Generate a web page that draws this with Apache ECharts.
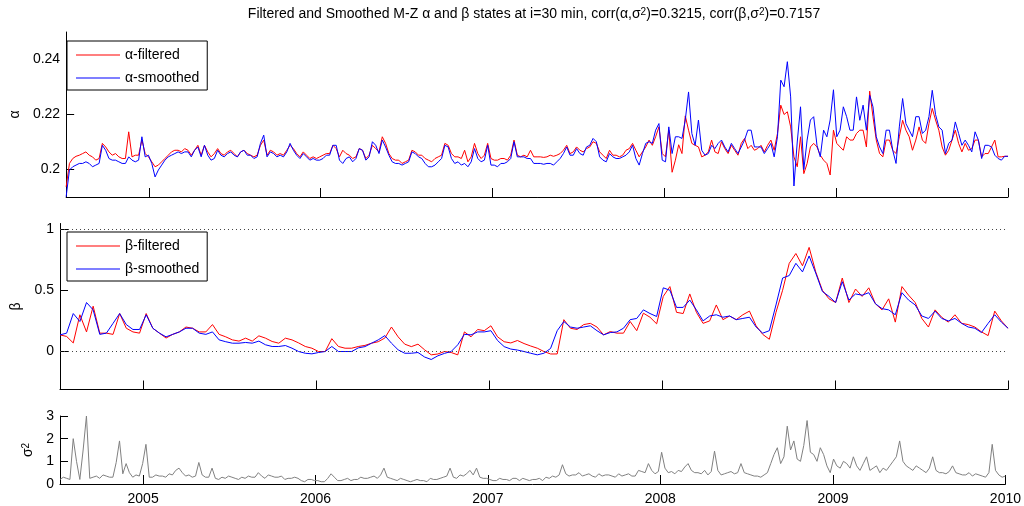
<!DOCTYPE html>
<html>
<head>
<meta charset="utf-8">
<script src="https://cdn.jsdelivr.net/npm/echarts@6/dist/echarts.min.js"></script>
<style>
html, body { margin: 0; padding: 0; background: #fff; }
#chart { width: 1024px; height: 506px; }
</style>
</head>
<body>
<div id="chart"></div>
<script>
// Observation window (UTC) and the year ticks on the shared time axis
const startDate = Date.UTC(2004, 6, 9);
const endDate = Date.UTC(2010, 0, 1);
const tickYears = [2005, 2006, 2007, 2008, 2009, 2010];

// M-Z alpha state, filtered and smoothed (weekly samples)
const alphaFiltered = [
  0.1937, 0.2022, 0.2040, 0.2048, 0.2052, 0.2058, 0.2064, 0.2052, 0.2046, 0.2034,
  0.2040, 0.2095, 0.2082, 0.2064, 0.2052, 0.2058, 0.2046, 0.2040, 0.2040, 0.2137,
  0.2046, 0.2052, 0.2052, 0.2107, 0.2058, 0.2046, 0.2028, 0.2010, 0.2016, 0.2028,
  0.2040, 0.2052, 0.2064, 0.2070, 0.2070, 0.2064, 0.2076, 0.2070, 0.2052, 0.2070,
  0.2088, 0.2052, 0.2088, 0.2064, 0.2046, 0.2058, 0.2076, 0.2058, 0.2052, 0.2064,
  0.2070, 0.2058, 0.2046, 0.2064, 0.2070, 0.2058, 0.2052, 0.2046, 0.2052, 0.2088,
  0.2107, 0.2052, 0.2070, 0.2064, 0.2052, 0.2058, 0.2052, 0.2070, 0.2088, 0.2076,
  0.2058, 0.2046, 0.2064, 0.2052, 0.2040, 0.2046, 0.2040, 0.2046, 0.2052, 0.2058,
  0.2058, 0.2088, 0.2076, 0.2046, 0.2070, 0.2058, 0.2052, 0.2040, 0.2046, 0.2076,
  0.2070, 0.2040, 0.2052, 0.2088, 0.2076, 0.2064, 0.2119, 0.2095, 0.2058, 0.2040,
  0.2034, 0.2034, 0.2022, 0.2028, 0.2034, 0.2070, 0.2064, 0.2052, 0.2052, 0.2040,
  0.2034, 0.2028, 0.2040, 0.2046, 0.2052, 0.2095, 0.2088, 0.2058, 0.2046, 0.2046,
  0.2040, 0.2070, 0.2028, 0.2046, 0.2095, 0.2058, 0.2040, 0.2052, 0.2095, 0.2040,
  0.2034, 0.2034, 0.2040, 0.2040, 0.2034, 0.2052, 0.2107, 0.2052, 0.2046, 0.2052,
  0.2046, 0.2070, 0.2046, 0.2046, 0.2046, 0.2044, 0.2046, 0.2052, 0.2048, 0.2052,
  0.2058, 0.2070, 0.2088, 0.2058, 0.2064, 0.2082, 0.2070, 0.2064, 0.2076, 0.2082,
  0.2101, 0.2095, 0.2064, 0.2052, 0.2040, 0.2070, 0.2052, 0.2052, 0.2046, 0.2052,
  0.2070, 0.2076, 0.2095, 0.2070, 0.2046, 0.2064, 0.2082, 0.2107, 0.2088, 0.2119,
  0.2155, 0.2058, 0.2046, 0.2143, 0.1990, 0.2034, 0.2090, 0.2058, 0.2195, 0.2143,
  0.2095, 0.2088, 0.2082, 0.2046, 0.2052, 0.2064, 0.2107, 0.2064, 0.2058, 0.2101,
  0.2076, 0.2058, 0.2088, 0.2070, 0.2052, 0.2095, 0.2113, 0.2076, 0.2088, 0.2070,
  0.2076, 0.2088, 0.2064, 0.2088, 0.2107, 0.2070, 0.2131, 0.2234, 0.2200, 0.2210,
  0.2155, 0.2046, 0.2010, 0.2119, 0.1985, 0.2022, 0.2082, 0.2095, 0.2082, 0.2052,
  0.2034, 0.2022, 0.1980, 0.2143, 0.2095, 0.2082, 0.2070, 0.2119, 0.2107, 0.2107,
  0.2131, 0.2143, 0.2143, 0.2082, 0.2285, 0.2192, 0.2107, 0.2058, 0.2046, 0.2107,
  0.2107, 0.2070, 0.2058, 0.2119, 0.2179, 0.2143, 0.2119, 0.2070, 0.2107, 0.2155,
  0.2107, 0.2095, 0.2167, 0.2222, 0.2180, 0.2143, 0.2082, 0.2052, 0.2070, 0.2107,
  0.2143, 0.2095, 0.2064, 0.2095, 0.2070, 0.2076, 0.2107, 0.2107, 0.2046, 0.2058,
  0.2058, 0.2082, 0.2107, 0.2046, 0.2046, 0.2048, 0.2048
];
const alphaSmoothed = [
  0.1901, 0.1998, 0.2010, 0.2016, 0.2022, 0.2022, 0.2028, 0.2022, 0.2010, 0.2016,
  0.2022, 0.2088, 0.2070, 0.2040, 0.2034, 0.2034, 0.2028, 0.2022, 0.2022, 0.2046,
  0.2034, 0.2028, 0.2034, 0.2119, 0.2046, 0.2052, 0.2022, 0.1973, 0.1998, 0.2016,
  0.2034, 0.2046, 0.2052, 0.2058, 0.2064, 0.2058, 0.2064, 0.2064, 0.2046, 0.2070,
  0.2082, 0.2046, 0.2088, 0.2052, 0.2034, 0.2040, 0.2070, 0.2052, 0.2046, 0.2058,
  0.2064, 0.2052, 0.2046, 0.2064, 0.2070, 0.2052, 0.2052, 0.2040, 0.2046, 0.2095,
  0.2125, 0.2046, 0.2064, 0.2058, 0.2046, 0.2052, 0.2046, 0.2064, 0.2095, 0.2070,
  0.2052, 0.2040, 0.2058, 0.2046, 0.2034, 0.2040, 0.2034, 0.2034, 0.2040, 0.2052,
  0.2052, 0.2088, 0.2088, 0.2034, 0.2022, 0.2040, 0.2046, 0.2028, 0.2040, 0.2076,
  0.2070, 0.2034, 0.2046, 0.2101, 0.2088, 0.2058, 0.2107, 0.2082, 0.2052, 0.2028,
  0.2022, 0.2022, 0.2016, 0.2022, 0.2028, 0.2064, 0.2058, 0.2046, 0.2040, 0.2022,
  0.2010, 0.2010, 0.2016, 0.2028, 0.2040, 0.2088, 0.2082, 0.2040, 0.2022, 0.2028,
  0.2016, 0.2022, 0.2010, 0.2028, 0.2076, 0.2040, 0.2028, 0.2034, 0.2088, 0.2016,
  0.2016, 0.2010, 0.2022, 0.2022, 0.2028, 0.2040, 0.2101, 0.2046, 0.2046, 0.2046,
  0.2040, 0.2040, 0.2022, 0.2022, 0.2022, 0.2019, 0.2022, 0.2022, 0.2016, 0.2028,
  0.2040, 0.2058, 0.2082, 0.2052, 0.2052, 0.2076, 0.2058, 0.2052, 0.2082, 0.2088,
  0.2113, 0.2101, 0.2046, 0.2034, 0.2028, 0.2058, 0.2046, 0.2040, 0.2040, 0.2046,
  0.2052, 0.2064, 0.2088, 0.2040, 0.2016, 0.2058, 0.2095, 0.2101, 0.2095, 0.2143,
  0.2167, 0.2034, 0.2028, 0.2155, 0.2058, 0.2119, 0.2119, 0.2113, 0.2180, 0.2282,
  0.2131, 0.2088, 0.2180, 0.2070, 0.2052, 0.2058, 0.2088, 0.2076, 0.2095, 0.2107,
  0.2082, 0.2064, 0.2095, 0.2076, 0.2058, 0.2082, 0.2107, 0.2143, 0.2143, 0.2082,
  0.2082, 0.2082, 0.2058, 0.2076, 0.2095, 0.2046, 0.2119, 0.2325, 0.2301, 0.2392,
  0.2264, 0.1940, 0.2100, 0.2228, 0.2000, 0.2107, 0.2180, 0.2192, 0.2088, 0.2046,
  0.2143, 0.2119, 0.2180, 0.2290, 0.2119, 0.2143, 0.2228, 0.2192, 0.2143, 0.2143,
  0.2264, 0.2179, 0.2234, 0.2143, 0.2270, 0.2228, 0.2119, 0.2082, 0.2058, 0.2143,
  0.2143, 0.2070, 0.2022, 0.2155, 0.2258, 0.2167, 0.2143, 0.2119, 0.2192, 0.2192,
  0.2131, 0.2143, 0.2192, 0.2288, 0.2200, 0.2155, 0.2143, 0.2058, 0.2095, 0.2107,
  0.2173, 0.2131, 0.2088, 0.2107, 0.2088, 0.2064, 0.2137, 0.2107, 0.2040, 0.2088,
  0.2088, 0.2082, 0.2052, 0.2040, 0.2034, 0.2048, 0.2048
];

// M-Z beta state, filtered and smoothed (fortnightly samples)
const betaFiltered = [
  0.136, 0.123, 0.070, 0.300, 0.160, 0.370, 0.150, 0.150, 0.140, 0.310,
  0.190, 0.160, 0.150, 0.310, 0.190, 0.150, 0.110, 0.140, 0.160, 0.200,
  0.190, 0.160, 0.160, 0.220, 0.140, 0.120, 0.095, 0.085, 0.109, 0.085,
  0.128, 0.109, 0.082, 0.068, 0.109, 0.095, 0.070, 0.041, 0.027, 0.000,
  0.000, 0.105, 0.041, 0.027, 0.027, 0.041, 0.050, 0.068, 0.080, 0.110,
  0.200, 0.120, 0.060, 0.040, 0.060, 0.014, -0.027, -0.020, 0.000, -0.008,
  -0.027, 0.160, 0.120, 0.180, 0.170, 0.210, 0.120, 0.080, 0.070, 0.090,
  0.065, 0.045, 0.027, 0.000, -0.020, -0.020, 0.260, 0.190, 0.180, 0.220,
  0.230, 0.200, 0.136, 0.163, 0.150, 0.150, 0.245, 0.170, 0.313, 0.280,
  0.226, 0.450, 0.530, 0.320, 0.310, 0.470, 0.320, 0.230, 0.250, 0.380,
  0.260, 0.290, 0.260, 0.300, 0.330, 0.210, 0.140, 0.100, 0.320, 0.500,
  0.720, 0.800, 0.700, 0.850, 0.650, 0.500, 0.430, 0.400, 0.600, 0.400,
  0.510, 0.450, 0.520, 0.390, 0.340, 0.430, 0.240, 0.530, 0.460, 0.400,
  0.270, 0.200, 0.340, 0.280, 0.240, 0.300, 0.230, 0.220, 0.200, 0.160,
  0.130, 0.330, 0.250, 0.190
];
const betaSmoothed = [
  0.136, 0.150, 0.310, 0.245, 0.400, 0.340, 0.140, 0.150, 0.230, 0.310,
  0.220, 0.180, 0.180, 0.300, 0.190, 0.150, 0.120, 0.140, 0.160, 0.190,
  0.190, 0.150, 0.140, 0.160, 0.095, 0.080, 0.068, 0.068, 0.074, 0.068,
  0.085, 0.055, 0.041, 0.041, 0.049, 0.027, 0.000, -0.014, -0.019, -0.008,
  0.000, 0.041, 0.000, 0.000, 0.000, 0.030, 0.040, 0.068, 0.095, 0.130,
  0.068, 0.014, -0.014, -0.014, -0.008, -0.045, -0.065, -0.035, -0.015, 0.000,
  0.055, 0.140, 0.136, 0.160, 0.160, 0.170, 0.090, 0.040, 0.020, 0.012,
  0.000, -0.014, -0.027, -0.014, 0.025, 0.170, 0.245, 0.200, 0.190, 0.200,
  0.210, 0.170, 0.136, 0.155, 0.160, 0.190, 0.260, 0.270, 0.340, 0.310,
  0.286, 0.520, 0.500, 0.360, 0.360, 0.420, 0.340, 0.250, 0.290, 0.300,
  0.280, 0.290, 0.260, 0.270, 0.280, 0.200, 0.150, 0.170, 0.380, 0.600,
  0.620, 0.720, 0.650, 0.780, 0.640, 0.490, 0.450, 0.400, 0.570, 0.420,
  0.470, 0.460, 0.480, 0.390, 0.350, 0.340, 0.300, 0.480, 0.420, 0.380,
  0.290, 0.270, 0.330, 0.270, 0.250, 0.270, 0.230, 0.200, 0.190, 0.155,
  0.230, 0.300, 0.240, 0.190
];

// Observation noise variance sigma^2 (weekly samples)
const sigmaSq = [
  0.20, 0.30, 0.25, 0.20, 2.00, 1.00, 0.20, 1.50, 3.00, 0.25,
  0.30, 0.35, 0.25, 0.40, 0.35, 0.30, 0.30, 0.95, 1.90, 0.45,
  0.90, 0.50, 0.30, 0.40, 0.35, 0.90, 1.75, 0.30, 0.30, 0.40,
  0.35, 0.35, 0.30, 0.45, 0.40, 0.60, 0.70, 0.50, 0.35, 0.40,
  0.30, 0.35, 0.95, 0.40, 0.30, 0.30, 0.70, 0.25, 0.20, 0.30,
  0.25, 0.35, 0.30, 0.25, 0.20, 0.30, 0.25, 0.35, 0.30, 0.30,
  0.50, 0.35, 0.25, 0.40, 0.35, 0.30, 0.30, 0.35, 0.20, 0.25,
  0.25, 0.30, 0.25, 0.15, 0.10, 0.20, 0.20, 0.15, 0.15, 0.10,
  0.10, 0.25, 0.45, 0.30, 0.15, 0.15, 0.20, 0.25, 0.15, 0.20,
  0.20, 0.30, 0.25, 0.25, 0.30, 0.35, 0.25, 0.40, 0.70, 0.30,
  0.25, 0.20, 0.15, 0.25, 0.20, 0.15, 0.10, 0.15, 0.20, 0.15,
  0.15, 0.10, 0.25, 0.20, 0.20, 0.25, 0.30, 0.35, 0.70, 0.30,
  0.25, 0.40, 0.35, 0.45, 0.60, 0.40, 0.70, 0.30, 0.25, 0.25,
  0.20, 0.15, 0.15, 0.25, 0.20, 0.20, 0.15, 0.25, 0.25, 0.15,
  0.25, 0.20, 0.15, 0.20, 0.20, 0.25, 0.15, 0.30, 0.25, 0.35,
  0.30, 0.40, 0.85, 0.45, 0.35, 0.40, 0.40, 0.50, 0.35, 0.40,
  0.45, 0.35, 0.30, 0.45, 0.35, 0.40, 0.40, 0.35, 0.30, 0.45,
  0.35, 0.40, 0.45, 0.35, 0.35, 0.60, 0.55, 0.50, 0.90, 0.60,
  0.45, 0.55, 1.40, 0.70, 0.50, 0.55, 0.45, 0.60, 0.55, 0.75,
  0.90, 0.60, 0.50, 0.50, 0.45, 0.60, 0.40, 0.55, 1.45, 0.60,
  0.40, 0.45, 0.50, 0.55, 0.45, 0.50, 0.90, 0.50, 0.45, 0.40,
  0.35, 0.35, 0.30, 0.40, 0.50, 0.90, 1.30, 1.60, 0.90, 1.20,
  2.55, 1.50, 1.90, 1.10, 1.00, 1.70, 2.80, 1.40, 1.30, 1.00,
  1.60, 1.30, 0.80, 0.50, 1.10, 0.80, 0.70, 1.00, 0.90, 0.70,
  1.20, 0.80, 0.60, 0.90, 1.20, 0.60, 0.70, 0.80, 0.50, 0.70,
  0.60, 0.80, 1.00, 1.20, 1.90, 1.00, 0.80, 0.70, 0.60, 0.80,
  0.70, 0.60, 0.50, 0.70, 1.20, 0.60, 0.50, 0.50, 0.45, 0.55,
  0.80, 0.50, 0.45, 0.40, 0.40, 0.50, 0.35, 0.45, 0.40, 0.35,
  0.30, 0.50, 1.75, 0.60, 0.40, 0.30, 0.35
];

const FONT = '"Liberation Sans", Arial, Helvetica, sans-serif';
const yearTicks = tickYears.map(y => Date.UTC(y, 0, 1));

// Spread each sample series evenly over the observation window
function pairs(arr) {
  const step = (endDate - startDate) / (arr.length - 1);
  return arr.map((v, i) => [startDate + i * step, v]);
}

const chart = echarts.init(document.getElementById('chart'), null, { renderer: 'canvas' });

function xAxisFor(gridIndex, showLabels) {
  return {
    type: 'value',
    gridIndex: gridIndex,
    min: startDate,
    max: endDate,
    axisLine: { show: true, onZero: false, lineStyle: { color: '#000', width: 1 } },
    axisTick: { show: true, inside: true, length: 9, customValues: yearTicks, lineStyle: { color: '#000' } },
    axisLabel: {
      show: showLabels,
      customValues: yearTicks,
      formatter: v => String(new Date(v).getUTCFullYear()),
      fontSize: 14, color: '#000', fontFamily: FONT, margin: 8
    },
    splitLine: { show: false }
  };
}

function yAxisFor(gridIndex, min, max, ticks, name, nameGap, rich) {
  return {
    type: 'value',
    gridIndex: gridIndex,
    min: min,
    max: max,
    name: name,
    nameLocation: 'middle',
    nameGap: nameGap,
    nameRotate: 90,
    nameTextStyle: { fontSize: 14, color: '#000', fontFamily: FONT, rich: rich },
    axisLine: { show: true, onZero: false, lineStyle: { color: '#000', width: 1 } },
    axisTick: { show: true, inside: true, length: 8, customValues: ticks, lineStyle: { color: '#000' } },
    axisLabel: { customValues: ticks, fontSize: 14, color: '#000', fontFamily: FONT, margin: 6 },
    splitLine: { show: false }
  };
}

function legendFor(top, names) {
  return {
    orient: 'vertical',
    left: 67,
    top: top,
    data: names,
    icon: 'path://M0,0H44V1H0Z',
    itemWidth: 44,
    itemHeight: 14,
    itemGap: 9,
    padding: [7, 8, 5, 9],
    borderColor: '#000',
    borderWidth: 1,
    borderRadius: 0,
    backgroundColor: '#fff',
    selectedMode: false,
    textStyle: { fontSize: 14, color: '#000', fontFamily: FONT }
  };
}

function lineSeries(name, data, color, xi, extra) {
  return Object.assign({
    name: name,
    type: 'line',
    xAxisIndex: xi,
    yAxisIndex: xi,
    data: pairs(data),
    showSymbol: false,
    symbol: 'none',
    lineStyle: { color: color, width: 1 },
    itemStyle: { color: color },
    animation: false
  }, extra || {});
}

const supRich = {
  s: { fontSize: 10, verticalAlign: 'top', fontFamily: FONT, color: '#000' }
};

const option = {
  backgroundColor: '#fff',
  animation: false,
  textStyle: { fontFamily: FONT },
  grid: [
    { left: 60, right: 16, top: 32, height: 165 },
    { left: 60, right: 16, top: 223.5, height: 166 },
    { left: 60, right: 16, top: 416, height: 68 }
  ],
  xAxis: [xAxisFor(0, false), xAxisFor(1, false), xAxisFor(2, true)],
  yAxis: [
    yAxisFor(0, 0.19, 0.25, [0.2, 0.22, 0.24], 'α', 42),
    yAxisFor(1, -0.31, 1.045, [0, 0.5, 1], 'β', 26),
    Object.assign(yAxisFor(2, 0, 3, [0, 1, 2, 3], '{b|σ}{s|2}', 24, {
      b: { fontSize: 14, fontFamily: FONT, color: '#000' },
      s: { fontSize: 10, verticalAlign: 'top', fontFamily: FONT, color: '#000' }
    }), { interval: 1 })
  ],
  legend: [
    legendFor(41, ['α-filtered', 'α-smoothed']),
    legendFor(232, ['β-filtered', 'β-smoothed'])
  ],
  graphic: [{
    type: 'text',
    x: 534,
    y: 14,
    style: {
      text: 'Filtered and Smoothed M-Z α and β states at i=30 min, corr(α,σ{s|2})=0.3215, corr(β,σ{s|2})=0.7157',
      fontSize: 14,
      fontFamily: FONT,
      fill: '#000',
      align: 'center',
      verticalAlign: 'middle',
      rich: supRich
    }
  }],
  series: [
    lineSeries('α-filtered', alphaFiltered, '#ff0000', 0),
    lineSeries('α-smoothed', alphaSmoothed, '#0000ff', 0),
    lineSeries('β-filtered', betaFiltered, '#ff0000', 1, {
      markLine: {
        silent: true,
        symbol: 'none',
        label: { show: false },
        lineStyle: { color: '#444', width: 1, type: [1, 3] },
        data: [{ yAxis: 0 }, { yAxis: 1 }],
        animation: false
      }
    }),
    lineSeries('β-smoothed', betaSmoothed, '#0000ff', 1),
    lineSeries('σ²', sigmaSq, '#808080', 2)
  ]
};

chart.setOption(option);
</script>
</body>
</html>
